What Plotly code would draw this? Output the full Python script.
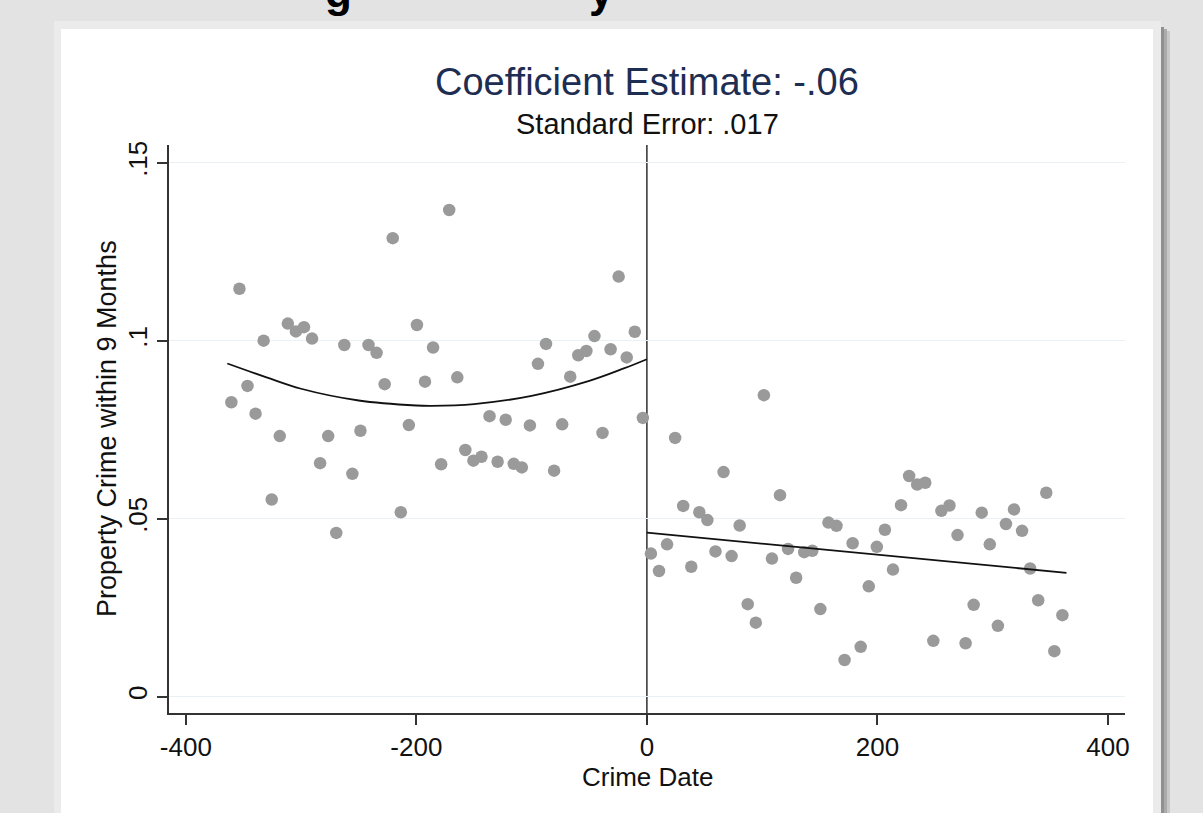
import plotly.graph_objects as go

W, H = 1203, 813

# ---------------- data ----------------
left_days = [-360.5, -353.5, -346.5, -339.5, -332.5, -325.5, -318.5, -311.5, -304.5, -297.5,
             -290.5, -283.5, -276.5, -269.5, -262.5, -255.5, -248.5, -241.5, -234.5, -227.5,
             -220.5, -213.5, -206.5, -199.5, -192.5, -185.5, -178.5, -171.5, -164.5, -157.5,
             -150.5, -143.5, -136.5, -129.5, -122.5, -115.5, -108.5, -101.5, -94.5, -87.5,
             -80.5, -73.5, -66.5, -59.5, -52.5, -45.5, -38.5, -31.5, -24.5, -17.5, -10.5, -3.5]
left_rate = [0.0827, 0.1146, 0.0873, 0.0795, 0.1000, 0.0554, 0.0732, 0.1048, 0.1026, 0.1038,
             0.1006, 0.0656, 0.0732, 0.0460, 0.0988, 0.0626, 0.0747, 0.0988, 0.0966, 0.0878,
             0.1288, 0.0518, 0.0763, 0.1044, 0.0885, 0.0981, 0.0653, 0.1367, 0.0897, 0.0693,
             0.0663, 0.0674, 0.0788, 0.0660, 0.0778, 0.0654, 0.0644, 0.0762, 0.0935, 0.0991,
             0.0635, 0.0765, 0.0899, 0.0959, 0.0971, 0.1013, 0.0741, 0.0976, 0.1180, 0.0953,
             0.1025, 0.0783]

right_days = [3.5, 10.5, 17.5, 24.5, 31.5, 38.5, 45.5, 52.5, 59.5, 66.5,
              73.5, 80.5, 87.5, 94.5, 101.5, 108.5, 115.5, 122.5, 129.5, 136.5,
              143.5, 150.5, 157.5, 164.5, 171.5, 178.5, 185.5, 192.5, 199.5, 206.5,
              213.5, 220.5, 227.5, 234.5, 241.5, 248.5, 255.5, 262.5, 269.5, 276.5,
              283.5, 290.5, 297.5, 304.5, 311.5, 318.5, 325.5, 332.5, 339.5, 346.5,
              353.5, 360.5]
right_rate = [0.0402, 0.0353, 0.0428, 0.0727, 0.0536, 0.0365, 0.0518, 0.0496, 0.0408, 0.0631,
              0.0395, 0.0481, 0.0260, 0.0208, 0.0847, 0.0388, 0.0566, 0.0415, 0.0334, 0.0406,
              0.0410, 0.0246, 0.0489, 0.0480, 0.0103, 0.0431, 0.0140, 0.0310, 0.0421, 0.0469,
              0.0357, 0.0538, 0.0620, 0.0596, 0.0601, 0.0157, 0.0522, 0.0537, 0.0454, 0.0150,
              0.0258, 0.0517, 0.0428, 0.0199, 0.0485, 0.0526, 0.0466, 0.0360, 0.0271, 0.0573,
              0.0128, 0.0229]

# fitted lines
left_fit_x = [-364, -330, -300, -250, -200, -187, -150, -100, -50, -20, 0]
left_fit_y = [0.0936, 0.0897, 0.0865, 0.0832, 0.0818, 0.0817, 0.0822, 0.0845, 0.0887, 0.0922, 0.0948]
right_fit_x = [0, 364]
right_fit_y = [0.0461, 0.0348]

cutoff_day = [0]

x_ticks = [-400, -200, 0, 200, 400]
x_tick_text = ["-400", "-200", "0", "200", "400"]
y_ticks = [0, 0.05, 0.1, 0.15]
y_tick_text = ["0", ".05", ".1", ".15"]

title_text = "Coefficient Estimate: -.06"
subtitle_text = "Standard Error: .017"
x_title = "Crime Date"
y_title = "Property Crime within 9 Months"

# ---------------- layout helpers ----------------
def px(x):
    return x / W

def py(y):
    return 1 - y / H

FONT = "Liberation Sans, Arial, sans-serif"
MARK = "#9a9a9a"

plot_l, plot_r, plot_t, plot_b = 169, 1125, 145, 713

fig = go.Figure()

fig.add_trace(go.Scatter(x=left_days, y=left_rate, mode="markers",
                         marker=dict(color=MARK, size=12.5, line=dict(width=0)),
                         showlegend=False, hoverinfo="x+y"))
fig.add_trace(go.Scatter(x=right_days, y=right_rate, mode="markers",
                         marker=dict(color=MARK, size=12.5, line=dict(width=0)),
                         showlegend=False, hoverinfo="x+y"))
fig.add_trace(go.Scatter(x=left_fit_x, y=left_fit_y, mode="lines",
                         line=dict(color="#111111", width=1.8, shape="spline", smoothing=1.0),
                         showlegend=False, hoverinfo="skip"))
fig.add_trace(go.Scatter(x=right_fit_x, y=right_fit_y, mode="lines",
                         line=dict(color="#111111", width=1.8),
                         showlegend=False, hoverinfo="skip"))

shapes = [
    # outer frame
    dict(type="rect", xref="paper", yref="paper", x0=px(54), x1=px(1161), y0=-0.01, y1=py(21),
         fillcolor="#ebebeb", line=dict(width=0), layer="below"),
    # shadow
    dict(type="rect", xref="paper", yref="paper", x0=px(1161), x1=px(1164), y0=-0.01, y1=py(27),
         fillcolor="#909090", line=dict(width=0), layer="below"),
    dict(type="rect", xref="paper", yref="paper", x0=px(1164), x1=px(1167), y0=-0.01, y1=py(29),
         fillcolor="#ababab", line=dict(width=0), layer="below"),
    dict(type="rect", xref="paper", yref="paper", x0=px(1167), x1=px(1170), y0=-0.01, y1=py(31),
         fillcolor="#c8c8c8", line=dict(width=0), layer="below"),
    # white card
    dict(type="rect", xref="paper", yref="paper", x0=px(61), x1=px(1153), y0=-0.01, y1=py(29),
         fillcolor="#ffffff", line=dict(width=0), layer="below"),
    # vertical line at cutoff
    dict(type="line", xref="x", yref="paper", x0=cutoff_day[0], x1=cutoff_day[0],
         y0=py(plot_b), y1=py(plot_t),
         line=dict(color="#3c3c3c", width=1.6), layer="below"),
]

annotations = [
    dict(text=title_text, x=px(647), y=py(82), xref="paper", yref="paper",
         xanchor="center", yanchor="middle", showarrow=False,
         font=dict(family=FONT, size=38, color="#1e2d52")),
    dict(text=subtitle_text, x=px(647), y=py(124), xref="paper", yref="paper",
         xanchor="center", yanchor="middle", showarrow=False,
         font=dict(family=FONT, size=29, color="#111111")),
    dict(text=x_title, x=px(647), y=py(777), xref="paper", yref="paper",
         xanchor="center", yanchor="middle", showarrow=False,
         font=dict(family=FONT, size=26, color="#111111")),
    dict(text=y_title, x=px(107), y=py(429), xref="paper", yref="paper",
         xanchor="center", yanchor="middle", showarrow=False, textangle=-90,
         font=dict(family=FONT, size=27, color="#111111")),
    # cut-off heading fragments at the very top
    dict(text="<b>g</b>", x=px(338), y=py(-8), xref="paper", yref="paper",
         xanchor="center", yanchor="middle", showarrow=False,
         font=dict(family=FONT, size=44, color="#000000")),
    dict(text="<b>y</b>", x=px(601), y=py(-8), xref="paper", yref="paper",
         xanchor="center", yanchor="middle", showarrow=False,
         font=dict(family=FONT, size=44, color="#000000")),
]

fig.update_layout(
    width=W, height=H,
    margin=dict(l=0, r=0, t=0, b=0, pad=0),
    paper_bgcolor="#e3e3e3",
    plot_bgcolor="rgba(0,0,0,0)",
    shapes=shapes,
    annotations=annotations,
    font=dict(family=FONT, color="#111111"),
    xaxis=dict(
        domain=[px(plot_l), px(plot_r)],
        range=[-414.6, 414.8],
        tickvals=x_ticks, ticktext=x_tick_text,
        ticks="outside", ticklen=10, tickwidth=1.5, tickcolor="#333333",
        showline=True, linecolor="#333333", linewidth=1.6,
        showgrid=False, zeroline=False, automargin=False,
        tickfont=dict(family=FONT, size=26, color="#111111"),
    ),
    yaxis=dict(
        domain=[py(plot_b), py(plot_t)],
        range=[-0.00458, 0.15497],
        tickvals=y_ticks, ticktext=y_tick_text, tickangle=-90,
        ticks="outside", ticklen=10, tickwidth=1.5, tickcolor="#333333",
        showline=True, linecolor="#333333", linewidth=1.6,
        showgrid=True, gridcolor="#e8f1f3", gridwidth=1.2,
        zeroline=False, automargin=False,
        tickfont=dict(family=FONT, size=26, color="#111111"),
    ),
)

fig.write_html("out.html")
